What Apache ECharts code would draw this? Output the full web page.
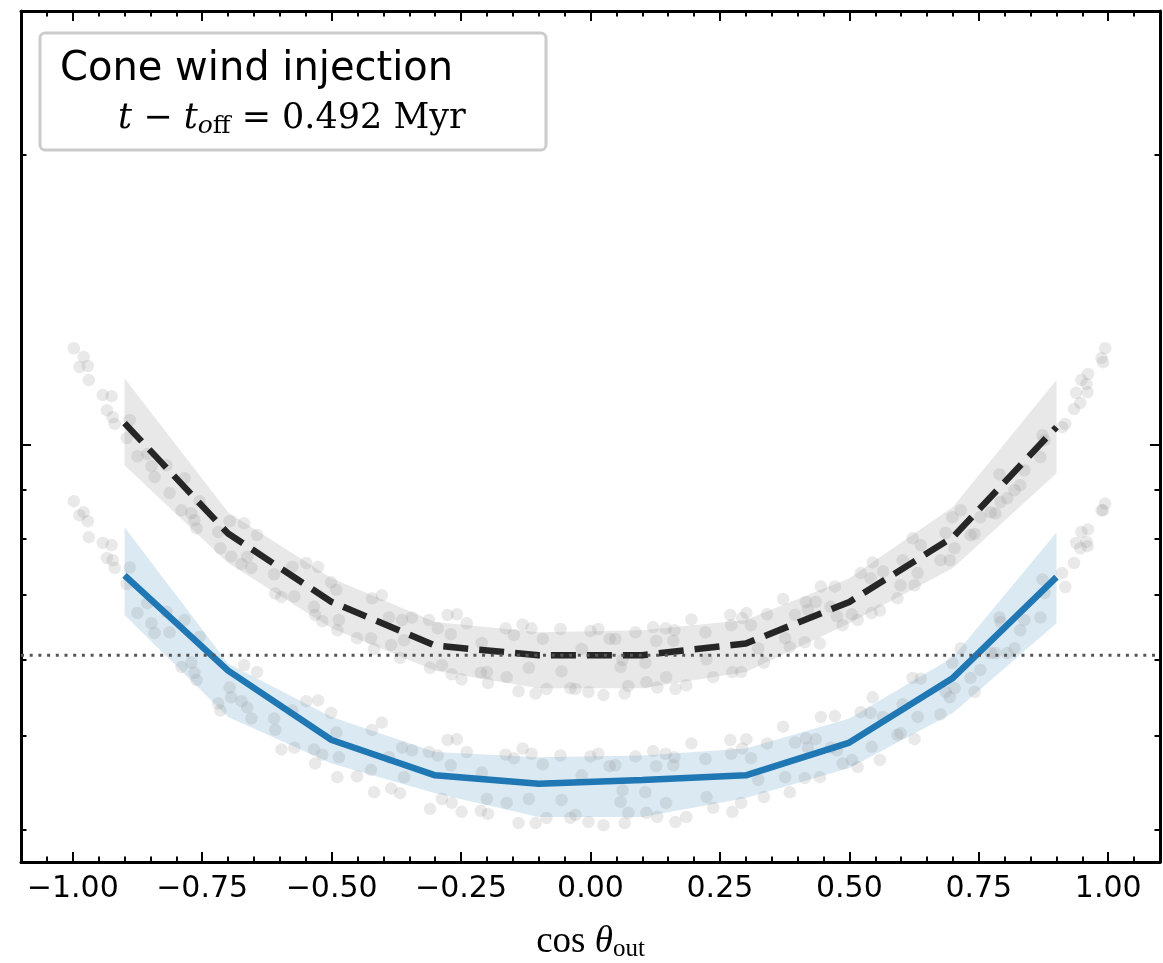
<!DOCTYPE html>
<html lang="en">
<head>
    <meta charset="UTF-8">
    <title>Cone wind injection</title>
    <style>
        body { margin: 0; background: #fff; }
    </style>
</head>
<body>
<!-- chart container, same size as the picture -->
<div id="main" style="width: 1163px;height:963px;"></div>

<script src="https://cdn.jsdelivr.net/npm/echarts@6.0.0/dist/echarts.min.js"></script>

<script type="text/javascript">
    // bin centres in cos(theta_out)
    var binCos = [-0.9, -0.7, -0.5, -0.3, -0.1, 0.1, 0.3, 0.5, 0.7, 0.9];

    // dashed black curve + grey band
    var dashedMedian = [1.054, 0.810, 0.688, 0.620, 0.606, 0.606, 0.623, 0.688, 0.803, 1.044];
    var dashedHigh   = [1.173, 0.852, 0.728, 0.656, 0.640, 0.643, 0.659, 0.728, 0.863, 1.168];
    var dashedLow    = [0.953, 0.755, 0.646, 0.584, 0.560, 0.560, 0.582, 0.654, 0.746, 0.935];

    // solid blue curve + light blue band
    var solidMedian = [0.733, 0.584, 0.495, 0.455, 0.446, 0.450, 0.455, 0.492, 0.574, 0.730];
    var solidHigh   = [0.822, 0.594, 0.523, 0.481, 0.475, 0.477, 0.485, 0.521, 0.603, 0.812];
    var solidLow    = [0.667, 0.523, 0.468, 0.436, 0.412, 0.412, 0.431, 0.463, 0.528, 0.654];

    // dotted horizontal level
    var refLevel = 0.606;

    // grey dots, the two clouds share the same cos values
    var dotCos = [
        -0.998, -0.979, -0.987, -0.971, -0.969, -0.942, -0.925, -0.934, -0.923, -0.919,
        -0.896, -0.890, -0.875, -0.856, -0.848, -0.842, -0.819, -0.813, -0.784, -0.790,
        -0.771, -0.765, -0.755, -0.761, -0.719, -0.697, -0.669, -0.715, -0.694, -0.674,
        -0.655, -0.663, -0.644, -0.611, -0.609, -0.597, -0.572, -0.576, -0.549, -0.526,
        -0.534, -0.532, -0.518, -0.501, -0.491, -0.486, -0.489, -0.451, -0.422, -0.403,
        -0.424, -0.418, -0.389, -0.385, -0.364, -0.345, -0.360, -0.368, -0.312, -0.295,
        -0.276, -0.258, -0.270, -0.239, -0.310, -0.287, -0.268, -0.249, -0.210, -0.212,
        -0.200, -0.198, -0.164, -0.162, -0.148, -0.131, -0.114, -0.092, -0.119, -0.139,
        -0.106, -0.085, -0.058, -0.056, -0.039, -0.029, -0.017, -0.004, 0.000, 0.015,
        0.025, 0.037, 0.048, 0.058, 0.062, 0.073, 0.066, 0.087, 0.106, 0.108,
        0.121, 0.127, 0.129, 0.145, 0.162, 0.160, 0.146, 0.164, 0.185, 0.195,
        0.222, 0.224, 0.237, 0.270, 0.272, 0.274, 0.291, 0.293, 0.301, 0.310,
        0.324, 0.335, 0.341, 0.372, 0.376, 0.395, 0.416, 0.435, 0.420, 0.385,
        0.414, 0.443, 0.445, 0.472, 0.464, 0.476, 0.487, 0.505, 0.516, 0.522,
        0.545, 0.541, 0.565, 0.543, 0.559, 0.593, 0.599, 0.603, 0.622, 0.638,
        0.626, 0.632, 0.676, 0.694, 0.686, 0.703, 0.699, 0.715, 0.734, 0.742,
        0.753, 0.773, 0.782, 0.790, 0.805, 0.792, 0.819, 0.830, 0.838, 0.869,
        0.873, 0.877, 0.911, 0.917, 0.934, 0.946, 0.938, 0.948, 0.961, 0.960,
        0.958, 0.987, 0.994, 0.990
    ];
    var dotUpper = [
        1.260, 1.234, 1.205, 1.208, 1.168, 1.127, 1.124, 1.087, 1.069, 1.052,
        1.017, 1.062, 0.974, 0.979, 0.951, 0.927, 0.953, 0.892, 0.924, 0.856,
        0.850, 0.836, 0.875, 0.820, 0.813, 0.834, 0.830, 0.782, 0.767, 0.753,
        0.746, 0.766, 0.807, 0.735, 0.702, 0.696, 0.697, 0.748, 0.755, 0.748,
        0.680, 0.667, 0.657, 0.721, 0.708, 0.659, 0.643, 0.631, 0.694, 0.699,
        0.631, 0.615, 0.663, 0.621, 0.659, 0.663, 0.628, 0.602, 0.659, 0.646,
        0.667, 0.668, 0.637, 0.654, 0.588, 0.592, 0.579, 0.572, 0.624, 0.581,
        0.582, 0.567, 0.646, 0.575, 0.636, 0.652, 0.646, 0.630, 0.588, 0.556,
        0.553, 0.559, 0.645, 0.583, 0.560, 0.559, 0.615, 0.555, 0.642, 0.645,
        0.551, 0.630, 0.630, 0.589, 0.599, 0.563, 0.553, 0.640, 0.595, 0.568,
        0.648, 0.627, 0.561, 0.646, 0.643, 0.627, 0.575, 0.559, 0.564, 0.660,
        0.640, 0.600, 0.575, 0.667, 0.651, 0.582, 0.582, 0.662, 0.670, 0.651,
        0.616, 0.595, 0.668, 0.693, 0.631, 0.667, 0.688, 0.688, 0.675, 0.618,
        0.625, 0.623, 0.714, 0.714, 0.680, 0.665, 0.651, 0.668, 0.659, 0.737,
        0.756, 0.728, 0.740, 0.670, 0.674, 0.694, 0.716, 0.760, 0.801, 0.788,
        0.716, 0.737, 0.760, 0.760, 0.811, 0.782, 0.842, 0.856, 0.807, 0.809,
        0.842, 0.852, 0.850, 0.933, 0.881, 0.873, 0.898, 0.909, 0.942, 0.972,
        1.024, 1.012, 1.044, 1.052, 1.090, 1.106, 1.133, 1.168, 1.185, 1.135,
        1.157, 1.231, 1.260, 1.219
    ];
    var dotLower = [
        0.875, 0.852, 0.846, 0.834, 0.803, 0.792, 0.788, 0.764, 0.760, 0.746,
        0.718, 0.747, 0.670, 0.686, 0.654, 0.639, 0.672, 0.640, 0.659, 0.589,
        0.595, 0.581, 0.633, 0.571, 0.540, 0.561, 0.592, 0.531, 0.548, 0.543,
        0.521, 0.535, 0.582, 0.521, 0.507, 0.484, 0.486, 0.531, 0.543, 0.544,
        0.484, 0.468, 0.478, 0.528, 0.504, 0.475, 0.453, 0.454, 0.507, 0.516,
        0.461, 0.437, 0.475, 0.441, 0.486, 0.483, 0.453, 0.436, 0.481, 0.477,
        0.495, 0.496, 0.466, 0.481, 0.420, 0.430, 0.426, 0.417, 0.458, 0.418,
        0.430, 0.415, 0.478, 0.426, 0.474, 0.485, 0.479, 0.467, 0.430, 0.406,
        0.406, 0.411, 0.477, 0.429, 0.411, 0.414, 0.455, 0.407, 0.476, 0.479,
        0.404, 0.465, 0.466, 0.427, 0.439, 0.416, 0.406, 0.476, 0.437, 0.416,
        0.482, 0.465, 0.412, 0.479, 0.475, 0.466, 0.426, 0.407, 0.412, 0.491,
        0.473, 0.432, 0.421, 0.495, 0.479, 0.417, 0.426, 0.485, 0.496, 0.474,
        0.450, 0.432, 0.491, 0.511, 0.453, 0.492, 0.497, 0.496, 0.486, 0.437,
        0.452, 0.453, 0.523, 0.524, 0.486, 0.483, 0.468, 0.472, 0.464, 0.529,
        0.548, 0.528, 0.523, 0.487, 0.472, 0.501, 0.503, 0.539, 0.574, 0.573,
        0.496, 0.523, 0.526, 0.548, 0.555, 0.560, 0.595, 0.616, 0.574, 0.555,
        0.585, 0.609, 0.609, 0.663, 0.609, 0.656, 0.616, 0.643, 0.659, 0.663,
        0.726, 0.703, 0.737, 0.713, 0.755, 0.782, 0.792, 0.813, 0.818, 0.786,
        0.794, 0.856, 0.870, 0.856
    ];

    // tick positions (y axis is logarithmic, no labels)
    var xMajorTicks = [-1, -0.75, -0.5, -0.25, 0, 0.25, 0.5, 0.75, 1];
    var xMinorTicks = [-1.05, -0.95, -0.9, -0.85, -0.8, -0.7, -0.65, -0.6, -0.55, -0.45, -0.4, -0.35,
        -0.3, -0.2, -0.15, -0.1, -0.05, 0.05, 0.1, 0.15, 0.2, 0.3, 0.35, 0.4, 0.45, 0.55, 0.6, 0.65,
        0.7, 0.8, 0.85, 0.9, 0.95, 1.05];
    var yMajorTicks = [1];
    var yMinorTicks = [0.4, 0.5, 0.6, 0.7, 0.8, 0.9, 2];

    var xMin = -1.1, xMax = 1.1;
    var yMin = 0.37, yMax = 2.817;

    function pairs(xs, ys) {
        var out = [];
        for (var i = 0; i < xs.length; i++) {
            out.push([xs[i], ys[i]]);
        }
        return out;
    }

    // filled band between high and low, drawn through the axes
    function bandRenderer(high, low, color) {
        return function (params, api) {
            var pts = [];
            for (var i = 0; i < binCos.length; i++) {
                pts.push(api.coord([binCos[i], high[i]]));
            }
            for (var j = binCos.length - 1; j >= 0; j--) {
                pts.push(api.coord([binCos[j], low[j]]));
            }
            return {
                type: 'polygon',
                shape: {points: pts},
                style: {fill: color}
            };
        };
    }

    function xAxisDef(pos, ticks, len, showLine) {
        return {
            type: 'value', position: pos, min: xMin, max: xMax,
            axisLine: {show: showLine, onZero: false, lineStyle: {color: '#000', width: 3}},
            axisTick: {show: true, inside: true, length: len, customValues: ticks,
                lineStyle: {color: '#000', width: 2}},
            axisLabel: {show: false},
            splitLine: {show: false}
        };
    }

    function yAxisDef(pos, ticks, len, showLine) {
        return {
            type: 'log', logBase: 10, position: pos, min: yMin, max: yMax,
            axisLine: {show: showLine, onZero: false, lineStyle: {color: '#000', width: 3}},
            axisTick: {show: true, inside: true, length: len, customValues: ticks,
                lineStyle: {color: '#000', width: 2}},
            axisLabel: {show: false},
            splitLine: {show: false},
            minorTick: {show: false}
        };
    }

    var myChart = echarts.init(document.getElementById('main'));

    var bottomAxis = xAxisDef('bottom', xMajorTicks, 10, true);
    bottomAxis.axisLabel = {
        show: true,
        customValues: xMajorTicks,
        margin: 12,
        fontFamily: 'DejaVu Sans',
        fontSize: 30,
        color: '#000',
        formatter: function (v) {
            var s = Math.abs(v).toFixed(2);
            return v < 0 ? '\u2212' + s : s;
        }
    };
    bottomAxis.name = '{rm|cos }{it|θ}{sub|out}';
    bottomAxis.nameLocation = 'middle';
    bottomAxis.nameGap = 60;
    bottomAxis.nameTextStyle = {
        rich: {
            rm: {fontFamily: 'Liberation Serif', fontSize: 37, color: '#000', lineHeight: 40},
            it: {fontFamily: 'Liberation Serif', fontStyle: 'italic', fontSize: 37, color: '#000', lineHeight: 40},
            sub: {fontFamily: 'Liberation Serif', fontSize: 25, color: '#000', lineHeight: 16, verticalAlign: 'bottom'}
        }
    };

    var option = {
        animation: false,
        backgroundColor: '#fff',
        // keep the frame where it is, do not shrink it for the axis name
        grid: {left: 21, right: 3, top: 11, bottom: 101, containLabel: false, outerBoundsMode: 'none'},
        xAxis: [
            bottomAxis,
            xAxisDef('bottom', xMinorTicks, 5.5, false),
            xAxisDef('top', xMajorTicks, 10, true),
            xAxisDef('top', xMinorTicks, 5.5, false)
        ],
        yAxis: [
            yAxisDef('left', yMajorTicks, 10, true),
            yAxisDef('left', yMinorTicks, 5.5, false),
            yAxisDef('right', yMajorTicks, 10, true),
            yAxisDef('right', yMinorTicks, 5.5, false)
        ],
        series: [
            {
                type: 'custom', name: 'grey band', silent: true, z: 1, clip: true,
                renderItem: bandRenderer(dashedHigh, dashedLow, 'rgba(128,128,128,0.18)'),
                data: [[binCos[0], dashedMedian[0]]]
            },
            {
                type: 'custom', name: 'blue band', silent: true, z: 1, clip: true,
                renderItem: bandRenderer(solidHigh, solidLow, 'rgba(31,119,180,0.16)'),
                data: [[binCos[0], solidMedian[0]]]
            },
            {
                type: 'scatter', name: 'upper dots', symbolSize: 12.5, z: 2, silent: true,
                itemStyle: {color: 'rgba(128,128,128,0.22)'},
                data: pairs(dotCos, dotUpper)
            },
            {
                type: 'scatter', name: 'lower dots', symbolSize: 12.5, z: 2, silent: true,
                itemStyle: {color: 'rgba(128,128,128,0.22)'},
                data: pairs(dotCos, dotLower)
            },
            {
                type: 'line', name: 'dashed', symbol: 'none', z: 3, silent: true,
                lineStyle: {color: '#262626', width: 6.5, type: [25, 11], cap: 'butt'},
                data: pairs(binCos, dashedMedian)
            },
            {
                type: 'line', name: 'solid', symbol: 'none', z: 3, silent: true,
                lineStyle: {color: '#1f77b4', width: 6.5},
                data: pairs(binCos, solidMedian)
            },
            {
                type: 'line', name: 'level', symbol: 'none', z: 4, silent: true,
                lineStyle: {color: '#555', width: 3, type: [3, 5.7]},
                data: [[xMin, refLevel], [xMax, refLevel]]
            }
        ],
        graphic: [
            {
                type: 'rect', z: 100,
                shape: {x: 40, y: 33, width: 506, height: 117, r: 5},
                style: {fill: '#fff', stroke: '#cccccc', lineWidth: 3}
            },
            {
                type: 'text', z: 101, x: 60, y: 70,
                style: {
                    text: 'Cone wind injection',
                    fontFamily: 'DejaVu Sans', fontSize: 40, fill: '#000',
                    verticalAlign: 'middle'
                }
            },
            {
                type: 'text', z: 101, x: 118, y: 119,
                style: {
                    text: '{it|t} − {it|t}{subi|o}{sub|ff} = 0.492 Myr',
                    fontFamily: 'DejaVu Serif', fontSize: 35, fill: '#000',
                    verticalAlign: 'middle',
                    rich: {
                        it: {fontFamily: 'DejaVu Serif', fontStyle: 'italic', fontSize: 35, lineHeight: 40},
                        subi: {fontFamily: 'DejaVu Serif', fontStyle: 'italic', fontSize: 25, lineHeight: 16, verticalAlign: 'bottom'},
                        sub: {fontFamily: 'DejaVu Serif', fontSize: 25, lineHeight: 16, verticalAlign: 'bottom'}
                    }
                }
            }
        ]
    };

    myChart.setOption(option);
</script>
</body>
</html>
